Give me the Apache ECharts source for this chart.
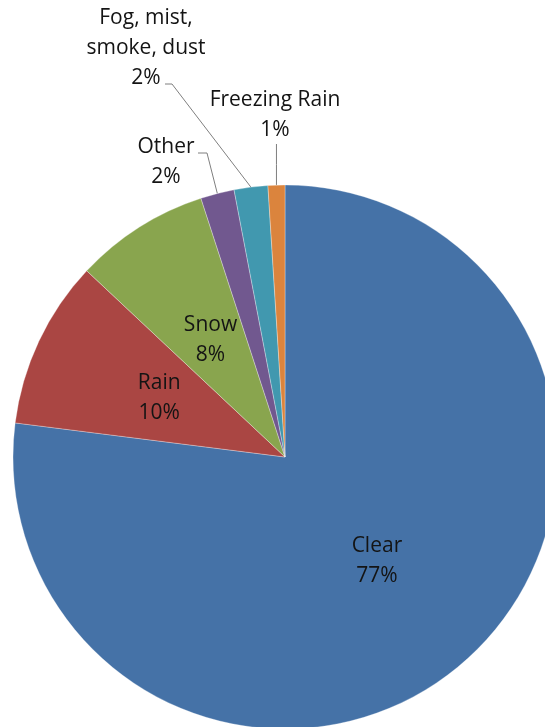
<!DOCTYPE html>
<html>
<head>
<meta charset="utf-8">
<script src="https://cdn.jsdelivr.net/npm/echarts@6/dist/echarts.min.js"></script>
<style>
  html, body { margin: 0; padding: 0; background: #fff; }
  #chart { width: 545px; height: 727px; }
</style>
</head>
<body>
<div id="chart"></div>
<script>
// Weather conditions share, clockwise from 12 o'clock
const categories = ['Clear', 'Rain', 'Snow', 'Other', 'Fog, mist, smoke, dust', 'Freezing Rain'];
const displayNames = ['Clear', 'Rain', 'Snow', 'Other', 'Fog, mist,\nsmoke, dust', 'Freezing Rain'];
const shares = [77, 10, 8, 2, 2, 1];
const colors = ['#4572A7', '#AA4643', '#89A54E', '#71588F', '#4198AF', '#DB843D'];
const insideLabel = [true, true, true, false, false, false];

// Callout placement for the thin slices: label centre and the leader line elbow/end
const callouts = {
  3: { x: 166, y: 162, bend: [207, 153], end: [198, 153] },
  4: { x: 146, y: 48, bend: [172, 84], end: [165, 84] },
  5: { x: 275, y: 115, bend: null, end: [null, 144] }
};

const chart = echarts.init(document.getElementById('chart'), null, { renderer: 'canvas' });

const data = categories.map((name, i) => ({
  name: name,
  value: shares[i],
  itemStyle: { color: colors[i] },
  label: insideLabel[i] ? { position: 'inside' } : { position: 'outside' },
  labelLine: { show: !insideLabel[i] }
}));

chart.setOption({
  animation: false,
  series: [{
    type: 'pie',
    center: [285, 457],
    radius: 272,
    startAngle: 90,
    clockwise: true,
    avoidLabelOverlap: false,
    data: data,
    itemStyle: { borderColor: 'rgba(255,255,255,0.6)', borderWidth: 0.5 },
    label: {
      formatter: p => displayNames[p.dataIndex] + '\n' + p.value + '%',
      color: '#141414',
      fontFamily: 'Open Sans',
      fontSize: 21,
      lineHeight: 30,
      align: 'center'
    },
    labelLine: {
      show: true,
      length: 20,
      length2: 10,
      lineStyle: { color: '#7f7f7f', width: 1 }
    },
    labelLayout: function (params) {
      const c = callouts[params.dataIndex];
      if (!c) return;
      const start = params.labelLinePoints[0];
      // a null coordinate keeps the line vertical above the slice edge
      const bend = c.bend || [start[0], (start[1] + c.end[1]) / 2];
      const end = [c.end[0] == null ? start[0] : c.end[0], c.end[1]];
      return {
        x: c.x,
        y: c.y,
        align: 'center',
        verticalAlign: 'middle',
        labelLinePoints: [start, bend, end]
      };
    }
  }]
});
</script>
</body>
</html>
